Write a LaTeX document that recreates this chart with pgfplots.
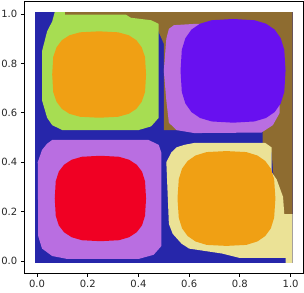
\documentclass[border=0pt]{standalone}
\usepackage{fontspec}
\setmainfont{DejaVu Sans}
\usepackage{pgfplots}
\pgfplotsset{compat=1.18}
\definecolor{cblue}{RGB}{38,38,170}
\definecolor{cbrown}{RGB}{142,108,48}
\definecolor{cgreen}{RGB}{167,221,82}
\definecolor{corange}{RGB}{240,160,20}
\definecolor{clav}{RGB}{185,110,225}
\definecolor{cviolet}{RGB}{104,16,240}
\definecolor{cred}{RGB}{240,0,35}
\definecolor{cyel}{RGB}{235,226,150}
\begin{document}
\begin{tikzpicture}
\begin{axis}[
  scale only axis, width=279pt, height=271.6pt,
  xmin=-0.05, xmax=1.05, ymin=-0.05, ymax=1.05,
  xtick={0,0.2,0.4,0.6,0.8,1.0}, ytick={0,0.2,0.4,0.6,0.8,1.0},
  xticklabel style={/pgf/number format/.cd,fixed,fixed zerofill,precision=1},
  yticklabel style={/pgf/number format/.cd,fixed,fixed zerofill,precision=1},
  /pgf/number format/assume math mode=true,
  tick label style={font=\fontsize{10}{12}\selectfont, text=black!85},
  tick align=outside, major tick length=3.5pt,
  xtick pos=bottom, ytick pos=left,
  axis line style={line width=0.8pt},
  every tick/.style={black, line width=0.8pt},
]
% blue background
\addplot[fill=cblue, draw=none, mark=none] coordinates {(-0.008,-0.008) (1.008,-0.008) (1.008,1.008) (-0.008,1.008)};
% brown
\addplot[fill=cbrown, draw=none, mark=none] coordinates {(0.11,1.008) (1.008,1.008) (1.008,0.19) (0.975,0.19) (0.94,0.25) (0.925,0.44) (0.89,0.46) (0.89,0.53) (0.50,0.53) (0.50,0.88) (0.47,0.95) (0.45,0.97) (0.35,0.985) (0.11,0.995)};
% green
\addplot[fill=cgreen, draw=none, mark=none] coordinates {(0.07,1.008) (0.11,1.008) (0.11,0.998) (0.35,0.998) (0.37,0.985) (0.45,0.975) (0.48,0.96) (0.48,0.58) (0.45,0.545) (0.40,0.53) (0.10,0.53) (0.06,0.55) (0.04,0.58) (0.02,0.65) (0.02,0.85) (0.04,0.93) (0.06,0.97)};
% orange top-left
\addplot[fill=corange, draw=none, mark=none] coordinates {(0.430,0.755) (0.426,0.826) (0.413,0.865) (0.392,0.894) (0.362,0.914) (0.320,0.926) (0.245,0.930) (0.170,0.926) (0.128,0.914) (0.098,0.894) (0.077,0.865) (0.064,0.826) (0.060,0.755) (0.064,0.684) (0.077,0.645) (0.098,0.616) (0.128,0.596) (0.170,0.584) (0.245,0.580) (0.320,0.584) (0.362,0.596) (0.392,0.616) (0.413,0.645) (0.426,0.684)};
% lavender top-right
\addplot[fill=clav, draw=none, mark=none] coordinates {(0.54,0.955) (0.62,0.96) (0.75,0.96) (0.85,0.95) (0.93,0.90) (0.957,0.80) (0.957,0.60) (0.93,0.55) (0.885,0.52) (0.62,0.518) (0.55,0.53) (0.52,0.56) (0.51,0.65) (0.50,0.77) (0.51,0.90) (0.52,0.94)};
% violet
\addplot[fill=cviolet, draw=none, mark=none] coordinates {(0.980,0.770) (0.975,0.855) (0.961,0.902) (0.937,0.937) (0.903,0.961) (0.857,0.975) (0.773,0.980) (0.689,0.975) (0.643,0.961) (0.609,0.937) (0.585,0.902) (0.571,0.855) (0.566,0.770) (0.571,0.685) (0.585,0.638) (0.609,0.603) (0.643,0.579) (0.689,0.565) (0.773,0.560) (0.857,0.565) (0.903,0.579) (0.937,0.603) (0.961,0.638) (0.975,0.685)};
% lavender bottom-left
\addplot[fill=clav, draw=none, mark=none] coordinates {(0.06,0.49) (0.44,0.49) (0.48,0.47) (0.49,0.44) (0.49,0.06) (0.46,0.025) (0.40,0.008) (0.12,0.008) (0.06,0.02) (0.02,0.05) (0.005,0.10) (0.003,0.40) (0.02,0.45) (0.04,0.475)};
% red
\addplot[fill=cred, draw=none, mark=none] coordinates {(0.430,0.253) (0.426,0.323) (0.414,0.362) (0.393,0.390) (0.363,0.410) (0.323,0.422) (0.250,0.426) (0.177,0.422) (0.137,0.410) (0.107,0.390) (0.086,0.362) (0.074,0.323) (0.070,0.253) (0.074,0.183) (0.086,0.144) (0.107,0.116) (0.137,0.096) (0.177,0.084) (0.250,0.080) (0.323,0.084) (0.363,0.096) (0.393,0.116) (0.414,0.144) (0.426,0.183)};
% yellow bottom-right
\addplot[fill=cyel, draw=none, mark=none] coordinates {(0.58,0.47) (0.62,0.478) (0.90,0.478) (0.925,0.46) (0.925,0.36) (0.945,0.33) (0.97,0.26) (0.975,0.19) (1.008,0.19) (1.008,-0.008) (0.98,-0.008) (0.98,0.012) (0.80,0.012) (0.73,0.03) (0.60,0.05) (0.57,0.07) (0.535,0.11) (0.52,0.15) (0.51,0.40) (0.53,0.44) (0.55,0.46)};
% orange bottom-right
\addplot[fill=corange, draw=none, mark=none] coordinates {(0.940,0.253) (0.935,0.331) (0.922,0.374) (0.900,0.405) (0.869,0.427) (0.825,0.441) (0.747,0.445) (0.669,0.441) (0.625,0.427) (0.594,0.405) (0.572,0.374) (0.559,0.331) (0.554,0.253) (0.559,0.175) (0.572,0.132) (0.594,0.101) (0.625,0.079) (0.669,0.065) (0.747,0.061) (0.825,0.065) (0.869,0.079) (0.900,0.101) (0.922,0.132) (0.935,0.175)};
\end{axis}
\pgfresetboundingbox
\path (current axis.south west) ++(-24.3pt,-18.7pt) rectangle ++(304pt,292pt);
\end{tikzpicture}
\end{document}
